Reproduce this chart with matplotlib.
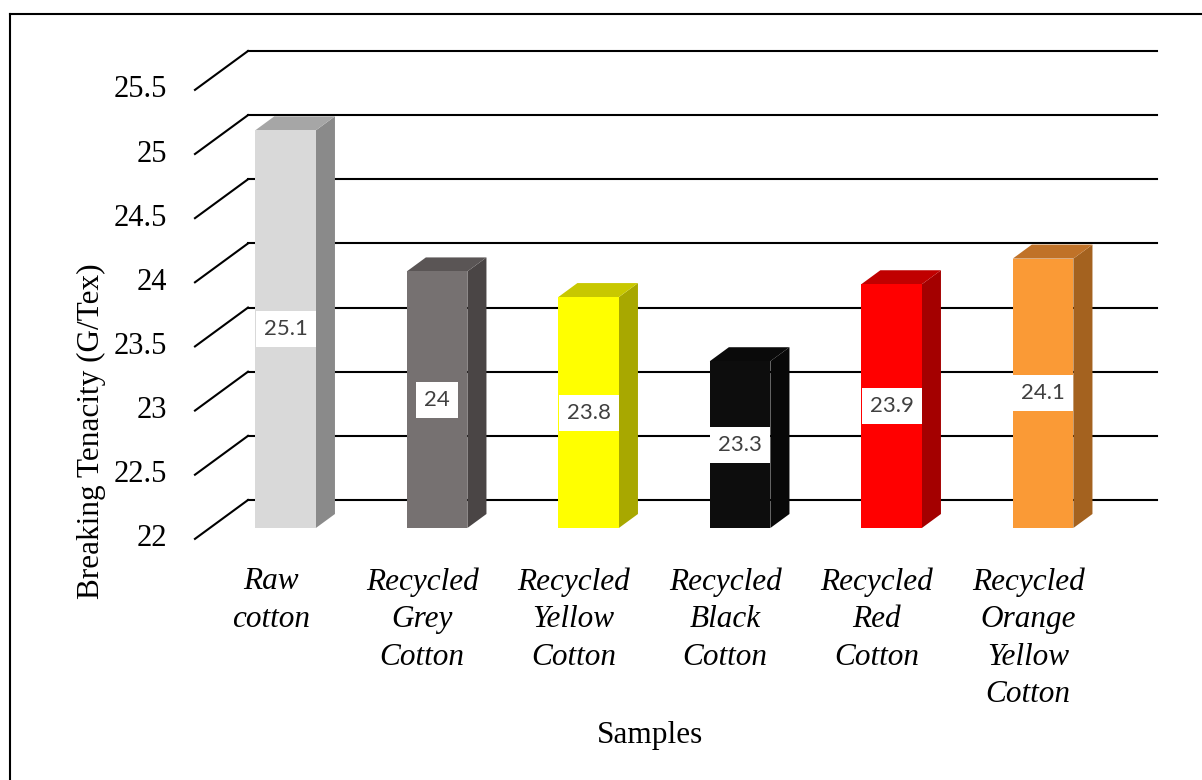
import matplotlib
matplotlib.use('Agg')
import matplotlib.pyplot as plt
from matplotlib.patches import Polygon
from matplotlib.lines import Line2D

# Breaking tenacity per sample
samples = ['Raw\ncotton', 'Recycled\nGrey\nCotton', 'Recycled\nYellow\nCotton',
           'Recycled\nBlack\nCotton', 'Recycled\nRed\nCotton',
           'Recycled\nOrange\nYellow\nCotton']
tenacity = [25.1, 24.0, 23.8, 23.3, 23.9, 24.1]
value_labels = ['25.1', '24', '23.8', '23.3', '23.9', '24.1']
yticks = [22, 22.5, 23, 23.5, 24, 24.5, 25, 25.5]

# front / side / top shades for each column
front_cols = ['#D9D9D9', '#767171', '#FFFF00', '#0D0D0D', '#FF0000', '#FA9A36']
side_cols = ['#8A8A8A', '#4A4545', '#A8A800', '#080808', '#A40000', '#A4621F']
top_cols = ['#A6A6A6', '#5A5555', '#C8C800', '#0A0A0A', '#C00000', '#C07228']

W, H = 1202, 780
fig = plt.figure(figsize=(W / 100, H / 100), dpi=100)
# axes box = back wall of the 3d chart
ax = fig.add_axes([248 / W, 1 - 500 / H, (1157 - 248) / W, (500 - 51) / H])
ax.set_xlim(-0.5, 5.5)
ax.set_ylim(22, 25.5)
ax.axis('off')

# oblique depth offset (full floor depth) in data units
DX, DY = -0.35, -0.303
f_back, f_front = 0.36, 0.72   # depth of columns within the floor
bw = 0.40
base = 22

serif = 'Liberation Serif'

# gridlines: back wall + left side wall
for v in yticks:
    ax.plot([-0.5, 5.5], [v, v], color='black', lw=1.5, zorder=1, clip_on=False)
    ax.plot([-0.5, -0.5 + DX], [v, v + DY], color='black', lw=1.5, zorder=1,
            clip_on=False)
    ax.text(-1.035, v + DY, f'{v:g}', ha='right', va='center', fontsize=22,
            family=serif, clip_on=False)

for i, v in enumerate(tenacity):
    xl, xr = i - bw / 2, i + bw / 2
    fx1, fy1 = f_front * DX, f_front * DY
    fx0, fy0 = f_back * DX, f_back * DY
    side = Polygon([(xr + fx1, base + fy1), (xr + fx0, base + fy0),
                    (xr + fx0, v + fy0), (xr + fx1, v + fy1)],
                   closed=True, facecolor=side_cols[i], edgecolor='none',
                   zorder=2, clip_on=False)
    top = Polygon([(xl + fx1, v + fy1), (xr + fx1, v + fy1),
                   (xr + fx0, v + fy0), (xl + fx0, v + fy0)],
                  closed=True, facecolor=top_cols[i], edgecolor='none',
                  zorder=2, clip_on=False)
    front = Polygon([(xl + fx1, base + fy1), (xr + fx1, base + fy1),
                     (xr + fx1, v + fy1), (xl + fx1, v + fy1)],
                    closed=True, facecolor=front_cols[i], edgecolor='none',
                    zorder=2.5, clip_on=False)
    for p in (side, top, front):
        ax.add_patch(p)

    # value label in the middle of the front face
    ax.text(i + fx1, (base + v) / 2 + fy1, value_labels[i], ha='center',
            va='center', fontsize=16, family='Lato', color='#404040',
            zorder=4, clip_on=False,
            bbox=dict(boxstyle='square,pad=0.36', fc='white', ec='none'))

    # category label under the front edge of the floor
    ax.text(i + DX, 21.475, samples[i], ha='center', va='top', fontsize=22.5,
            family=serif, style='italic', linespacing=1.38, clip_on=False)

fig.text(650 / W, 1 - 736 / H, 'Samples', ha='center', va='center',
         fontsize=22.5, family=serif)
fig.text(91 / W, 1 - 431 / H, 'Breaking Tenacity (G/Tex)', ha='center',
         va='center', rotation=90, fontsize=22.5, family=serif)

# outer frame
fig.add_artist(Line2D([10 / W, 10 / W], [0, 1 - 14 / H], color='black',
                      lw=1.5, transform=fig.transFigure))
fig.add_artist(Line2D([10 / W, 1], [1 - 14 / H, 1 - 14 / H], color='black',
                      lw=1.5, transform=fig.transFigure))

fig.savefig('out.png', dpi=100)
